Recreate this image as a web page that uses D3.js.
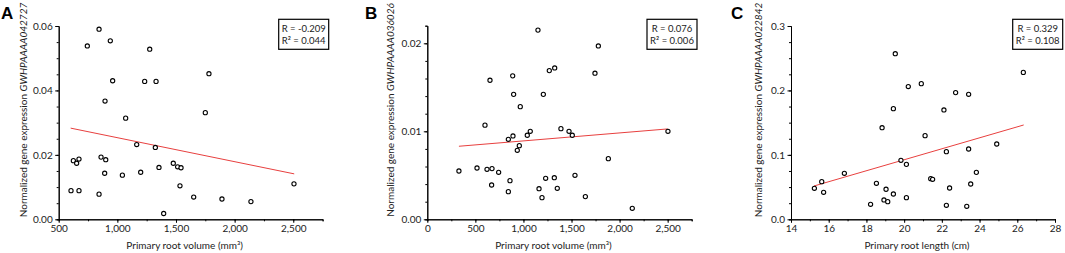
<!DOCTYPE html>
<html>
<head>
<meta charset="utf-8">
<script src="https://cdn.jsdelivr.net/npm/d3@7"></script>
<style>
  body { margin: 0; background: #fff; }
  svg { display: block; font-family: Lato, "Open Sans", sans-serif; }
  .axis path, .axis line { stroke: #000; }
  .axis text { fill: #222; font-size: 10px; font-family: Lato, sans-serif; }
</style>
</head>
<body>
<div id="chart-area"></div>
<script>
// Data
// ****
const aVolume = [844, 744, 940, 1276, 1781, 960, 1233, 1330, 895, 1750, 1071, 1165, 1324, 625, 653, 673, 861, 901,
  892, 1043, 1199, 1355, 1477, 1514, 1543, 1534, 605, 673, 844, 1651, 1892, 2139, 1395, 2506]
const aExpr = [0.0590, 0.0538, 0.0554, 0.0528, 0.0452, 0.0430, 0.0428, 0.0428, 0.0367, 0.0331, 0.0314, 0.0232, 0.0223,
  0.0182, 0.0174, 0.0187, 0.0193, 0.0185, 0.0143, 0.0137, 0.0146, 0.0161, 0.0174, 0.0163, 0.0160, 0.0104,
  0.0089, 0.0089, 0.0078, 0.0069, 0.0063, 0.0055, 0.0018, 0.0110]

const bVolume = [1151, 1779, 1744, 1269, 1325, 652, 888, 898, 1207, 967, 600, 1390, 1474, 1508, 1071, 1040, 891, 843,
  957, 936, 2503, 1883, 329, 517, 621, 673, 742, 860, 669, 843, 1231, 1321, 1536, 1162, 1352, 1193, 1644, 2132]
const bExpr = [0.0215, 0.0197, 0.0166, 0.0169, 0.0172, 0.0158, 0.0163, 0.0142, 0.0142, 0.0128, 0.0107, 0.0103, 0.0100,
  0.00955, 0.0100, 0.00955, 0.00947, 0.00909, 0.00837, 0.00784, 0.0100, 0.00689, 0.00549, 0.00583, 0.00568,
  0.00576, 0.00534, 0.00439, 0.0039, 0.00314, 0.00466, 0.00473, 0.0050, 0.00348, 0.00352, 0.00246, 0.00258, 0.00125]

const cLength = [19.53, 26.32, 20.22, 20.91, 22.73, 23.42, 19.43, 22.11, 18.83, 21.11, 24.91, 23.42, 22.24, 19.83,
  20.12, 16.83, 23.83, 15.63, 15.24, 15.73, 18.53, 19.04, 19.43, 21.41, 21.51, 22.41, 23.53, 18.22, 18.93,
  19.13, 20.12, 22.24, 23.32]
const cExpr = [0.257, 0.228, 0.206, 0.2105, 0.1966, 0.194, 0.1717, 0.1697, 0.1422, 0.1298, 0.1169, 0.1091, 0.105,
  0.0916, 0.0853, 0.0714, 0.0729, 0.0584, 0.0481, 0.0419, 0.0559, 0.0466, 0.0393, 0.0631, 0.0621, 0.0486,
  0.0548, 0.0233, 0.030, 0.0274, 0.0336, 0.0217, 0.0202]

// fitted lines (start, end)
const aFit = [[602, 0.0283], [2508, 0.0141]]
const bFit = [[329, 0.0083], [2500, 0.01027]]
const cFit = [[15.22, 0.0517], [26.34, 0.1464]]

const aStats = ["R = -0.209", "R\u00b2 = 0.044"]
const bStats = ["R = 0.076", "R\u00b2 = 0.006"]
const cStats = ["R = 0.329", "R\u00b2 = 0.108"]

const genes = ["GWHPAAAA042727", "GWHPAAAA036026", "GWHPAAAA022842"]
const xTitles = ["Primary root volume (mm\u00b3)", "Primary root volume (mm\u00b3)", "Primary root length (cm)"]
const letters = ["A", "B", "C"]

// Config
// ******
const W = 1065, H = 253
const svg = d3.select("#chart-area").append("svg").attr("width", W).attr("height", H)

const panels = [
  { letter: letters[0], lx: 1, xs: aVolume, ys: aExpr, fit: aFit, stats: aStats, gene: genes[0], xTitle: xTitles[0],
    xDom: [500, 2750], xRange: [58.7, 322.6], xMajor: d3.range(500, 2501, 500), xMinor: d3.range(500, 2751, 250), xFmt: d3.format(","),
    yDom: [0, 0.06], yRange: [219.3, 26], yMajor: [0, 0.02, 0.04, 0.06], yMinor: d3.range(0, 0.0601, 0.005), yFmt: d3.format(".2f"),
    labX: 23, boxX: 278.7 },
  { letter: letters[1], lx: 365, xs: bVolume, ys: bExpr, fit: bFit, stats: bStats, gene: genes[1], xTitle: xTitles[1],
    xDom: [0, 2750], xRange: [427.3, 691.7], xMajor: d3.range(0, 2501, 500), xMinor: d3.range(0, 2751, 250), xFmt: d3.format(","),
    yDom: [0, 0.022], yRange: [219.3, 25.7], yMajor: [0, 0.01, 0.02], yMinor: d3.range(0, 0.0221, 0.002), yFmt: d3.format(".2f"),
    labX: 390, boxX: 647 },
  { letter: letters[2], lx: 731, xs: cLength, ys: cExpr, fit: cFit, stats: cStats, gene: genes[2], xTitle: xTitles[2],
    xDom: [14, 28], xRange: [791, 1055], xMajor: d3.range(14, 28.1, 2), xMinor: d3.range(14, 28.1, 1), xFmt: d3.format("d"),
    yDom: [0, 0.3], yRange: [219.3, 26], yMajor: [0, 0.1, 0.2, 0.3], yMinor: d3.range(0, 0.301, 0.025), yFmt: d3.format(".1f"),
    labX: 758, boxX: 1012.7 }
]

panels.forEach(drawPanel)

// Draw Panel
// **********
function drawPanel(p) {
  const x = d3.scaleLinear().domain(p.xDom).range(p.xRange)
  const y = d3.scaleLinear().domain(p.yDom).range(p.yRange)
  const g = svg.append("g")
  const base = p.yRange[0], left = p.xRange[0]

  // minor ticks
  g.append("g").attr("class", "axis").attr("transform", "translate(0," + base + ")")
    .call(d3.axisBottom(x).tickValues(p.xMinor).tickSize(2).tickFormat(""))
  g.append("g").attr("class", "axis").attr("transform", "translate(" + left + ",0)")
    .call(d3.axisLeft(y).tickValues(p.yMinor).tickSize(2).tickFormat(""))

  // major ticks
  const xa = g.append("g").attr("class", "axis").attr("transform", "translate(0," + base + ")")
    .call(d3.axisBottom(x).tickValues(p.xMajor).tickSize(3.5).tickSizeOuter(0).tickPadding(2).tickFormat(p.xFmt))
  const ya = g.append("g").attr("class", "axis").attr("transform", "translate(" + left + ",0)")
    .call(d3.axisLeft(y).tickValues(p.yMajor).tickSize(3.5).tickSizeOuter(0).tickPadding(2.5).tickFormat(p.yFmt))
  g.selectAll(".axis path").attr("stroke-width", 1)

  // axis titles
  g.append("text")
    .attr("x", (p.xRange[0] + p.xRange[1]) / 2 - 6)
    .attr("y", 249)
    .attr("text-anchor", "middle")
    .attr("font-size", "10px")
    .attr("fill", "#222")
    .text(p.xTitle)

  const yl = g.append("text")
    .attr("transform", "translate(" + (p.labX + 3.5) + "," + 110 + ") rotate(-90)")
    .attr("text-anchor", "middle")
    .attr("font-size", "10px")
    .attr("fill", "#222")
  yl.append("tspan").text("Normalized gene expression ")
  yl.append("tspan").attr("font-style", "italic").text(p.gene)

  // letter
  g.append("text")
    .attr("x", p.lx)
    .attr("y", 19)
    .attr("font-family", "'Liberation Sans', Arial, sans-serif")
    .attr("font-weight", "bold")
    .attr("font-size", "17px")
    .text(p.letter)

  // fit line
  g.append("line")
    .attr("x1", x(p.fit[0][0])).attr("y1", y(p.fit[0][1]))
    .attr("x2", x(p.fit[1][0])).attr("y2", y(p.fit[1][1]))
    .attr("stroke", "#e8403f")
    .attr("stroke-width", 1)

  // points
  g.selectAll("circle").data(p.xs.map((v, i) => [v, p.ys[i]])).enter().append("circle")
    .attr("cx", d => x(d[0]))
    .attr("cy", d => y(d[1]))
    .attr("r", 2.1)
    .attr("fill", "#fff")
    .attr("stroke", "#000")
    .attr("stroke-width", 1.1)

  // stats box
  g.append("rect")
    .attr("x", p.boxX).attr("y", 19.3)
    .attr("width", 50).attr("height", 30)
    .attr("fill", "#fff")
    .attr("stroke", "#000")
    .attr("stroke-width", 1.2)
  p.stats.forEach((s, i) => {
    g.append("text")
      .attr("x", p.boxX + 25)
      .attr("y", 32 + i * 12)
      .attr("text-anchor", "middle")
      .attr("font-size", "9.5px")
      .attr("fill", "#222")
      .text(s)
  })
}
</script>
</body>
</html>
